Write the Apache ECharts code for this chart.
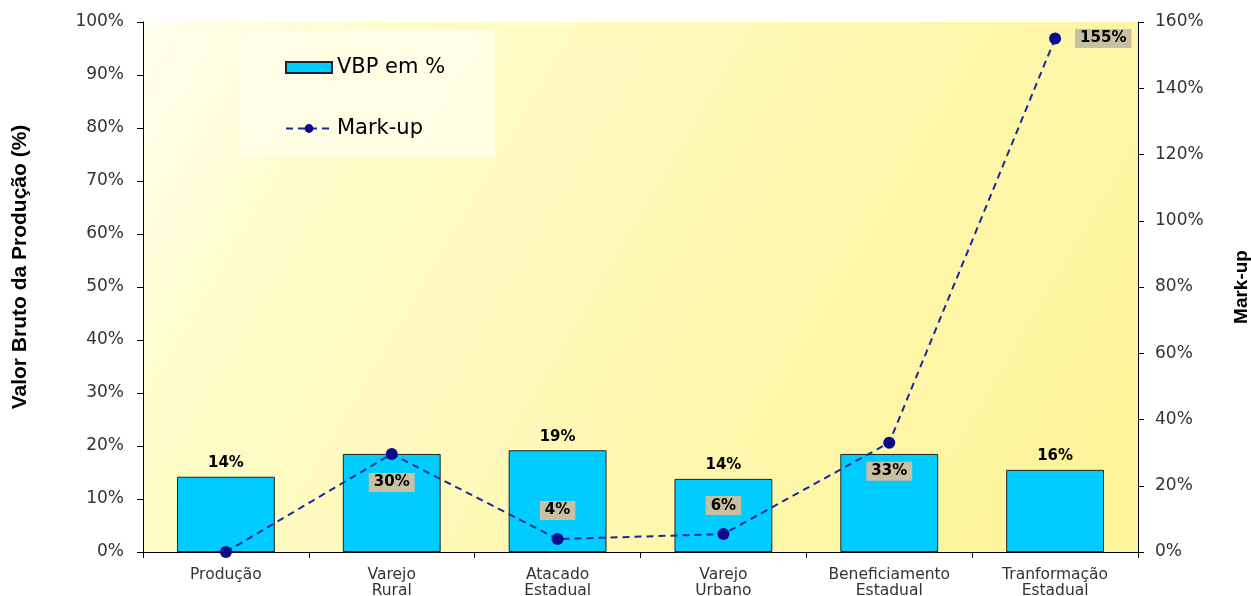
<!DOCTYPE html>
<html>
<head>
<meta charset="utf-8">
<script src="https://cdn.jsdelivr.net/npm/echarts@6/dist/echarts.min.js"></script>
<style>
  html, body { margin: 0; padding: 0; background: #fff; }
  #chart { width: 1251px; height: 596px; }
</style>
</head>
<body>
<div id="chart"></div>
<script>
const categories = ['Produção', 'Varejo\nRural', 'Atacado\nEstadual', 'Varejo\nUrbano', 'Beneficiamento\nEstadual', 'Tranformação\nEstadual'];
const vbpValues = [14.2, 18.5, 19.2, 13.8, 18.5, 15.5];
const vbpLabels = ['14%', '', '19%', '14%', '', '16%'];
const markupValues = [0, 29.6, 3.9, 5.4, 33, 155];
const markupLabels = ['', '30%', '4%', '6%', '33%', '155%'];
const markupLabelPos = ['bottom', 'bottom', 'top', 'top', 'bottom', 'right'];

const chart = echarts.init(document.getElementById('chart'));

const tickFont = { fontFamily: 'DejaVu Sans', fontSize: 17, color: '#333' };
const titleFont = { fontFamily: 'Liberation Sans', fontSize: 21, fontWeight: 'bold', color: '#000' };

const option = {
  animation: false,
  grid: {
    left: 143, right: 113, top: 22, bottom: 44,
    outerBoundsMode: 'none',
    containLabel: false,
    show: true,
    borderWidth: 0,
    backgroundColor: new echarts.graphic.LinearGradient(0, 0, 0.9, 1, [
      { offset: 0, color: '#fffff0' },
      { offset: 0.2, color: '#fffcca' },
      { offset: 1, color: '#fdf49a' }
    ])
  },
  legend: {
    orient: 'vertical',
    left: 240, top: 30,
    padding: [27, 50, 18, 45],
    backgroundColor: 'rgba(255,253,232,0.85)',
    itemWidth: 46, itemHeight: 11,
    itemGap: 40,
    textStyle: { fontFamily: 'DejaVu Sans', fontSize: 21, color: '#000' },
    data: [{ name: 'VBP em %', icon: 'rect' }, { name: 'Mark-up' }]
  },
  xAxis: {
    type: 'category',
    data: categories,
    axisLine: { lineStyle: { color: '#000', width: 1 } },
    axisTick: { show: true, inside: false, length: 6, lineStyle: { color: '#000' } },
    axisLabel: { fontFamily: 'DejaVu Sans', fontSize: 15.5, color: '#333', lineHeight: 16, margin: 15 }
  },
  yAxis: [
    {
      type: 'value', min: 0, max: 100, interval: 10,
      name: 'Valor Bruto da Produção (%)',
      nameLocation: 'middle', nameGap: 112, nameRotate: 90,
      nameTextStyle: Object.assign({ padding: [0, 0, 0, 40] }, titleFont),
      axisLine: { show: true, lineStyle: { color: '#000' } },
      axisTick: { show: true, length: 6, lineStyle: { color: '#000' } },
      splitLine: { show: false },
      axisLabel: Object.assign({ formatter: '{value}%', margin: 19 }, tickFont)
    },
    {
      type: 'value', min: 0, max: 160, interval: 20,
      name: 'Mark-up',
      nameLocation: 'middle', nameGap: 94, nameRotate: 90,
      nameTextStyle: Object.assign({}, titleFont, { fontSize: 19 }),
      axisLine: { show: true, lineStyle: { color: '#000' } },
      axisTick: { show: true, length: 6, lineStyle: { color: '#000' } },
      splitLine: { show: false },
      axisLabel: Object.assign({ formatter: '{value}%', margin: 17 }, tickFont)
    }
  ],
  series: [
    {
      name: 'VBP em %',
      type: 'bar',
      yAxisIndex: 0,
      barWidth: '59%',
      itemStyle: { color: '#00ccff', borderColor: '#222', borderWidth: 1 },
      label: {
        show: true, position: 'top', distance: 6,
        fontFamily: 'DejaVu Sans', fontSize: 15, fontWeight: 'bold', color: '#000',
        formatter: p => vbpLabels[p.dataIndex]
      },
      data: vbpValues
    },
    {
      name: 'Mark-up',
      type: 'line',
      yAxisIndex: 1,
      symbol: 'circle', symbolSize: 12,
      itemStyle: { color: '#0a0a8c' },
      lineStyle: { color: '#1a2a9a', width: 2, type: [7, 5] },
      z: 5,
      data: markupValues.map((v, i) => ({
        value: v,
        label: {
          show: markupLabels[i] !== '',
          position: markupLabelPos[i],
          distance: i === 5 ? 14 : 13,
          formatter: markupLabels[i],
          fontFamily: 'DejaVu Sans', fontSize: 15, fontWeight: 'bold', color: '#000',
          backgroundColor: '#c8c0a2',
          padding: [2, 5, 2, 5]
        }
      }))
    }
  ]
};

chart.setOption(option);
</script>
</body>
</html>
